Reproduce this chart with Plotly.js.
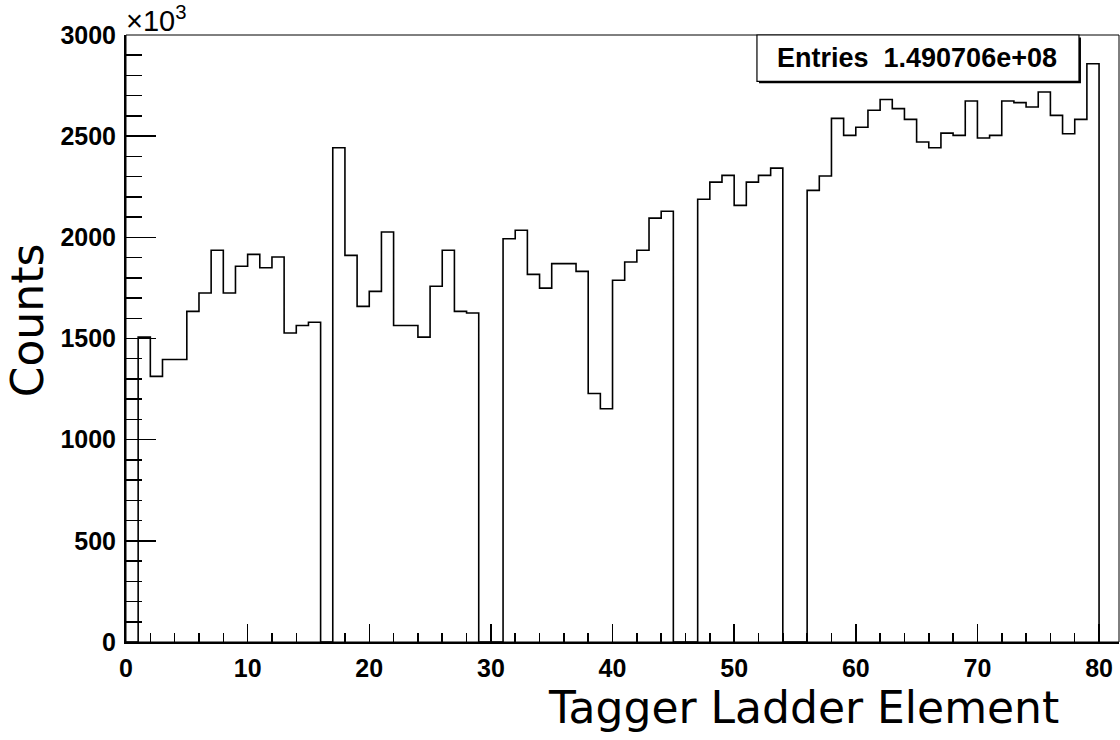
<!DOCTYPE html>
<html>
<head>
<meta charset="utf-8">
<script src="https://cdn.plot.ly/plotly-3.0.1.min.js"></script>
<style>
  html, body { margin: 0; padding: 0; background: #ffffff; }
  #chart { width: 1120px; height: 740px; }
</style>
</head>
<body>
<div id="chart"></div>
<script>
// Bin lower edges (Tagger Ladder Element), 80 bins of width 1
const binEdges = [0,1,2,3,4,5,6,7,8,9,10,11,12,13,14,15,16,17,18,19,
  20,21,22,23,24,25,26,27,28,29,30,31,32,33,34,35,36,37,38,39,
  40,41,42,43,44,45,46,47,48,49,50,51,52,53,54,55,56,57,58,59,
  60,61,62,63,64,65,66,67,68,69,70,71,72,73,74,75,76,77,78,79,80];

// Counts per bin, in units of 10^3
const counts = [0,1507,1313,1396,1396,1634,1725,1936,1725,1857,
  1916,1850,1903,1527,1564,1580,0,2443,1911,1659,
  1733,2026,1564,1564,1507,1758,1936,1634,1626,0,
  0,1993,2035,1817,1749,1870,1870,1832,1228,1153,
  1788,1878,1936,2095,2129,0,0,2188,2273,2306,
  2158,2273,2306,2342,0,0,2232,2303,2588,2504,
  2544,2628,2681,2636,2583,2471,2443,2515,2504,2674,
  2491,2504,2674,2666,2644,2718,2603,2512,2583,2858];

const xTitle = "Tagger Ladder Element";
const yTitle = "Counts";
const yExponent = "\u00d710<sup>3</sup>";
const statsLabel = "Entries";
const statsEntries = "1.490706e+08";

const trace = {
  x: binEdges,
  y: counts.concat([0]),
  type: "scatter",
  mode: "lines",
  line: { shape: "hv", color: "#000000", width: 1.6 },
  hoverinfo: "skip",
  showlegend: false
};

const tickFont = { family: "Liberation Sans, Arial, sans-serif", size: 25, color: "#000000", weight: "bold" };
const titleFont = { family: "DejaVu Sans, sans-serif", size: 44, color: "#000000" };

const layout = {
  width: 1120,
  height: 740,
  paper_bgcolor: "#ffffff",
  plot_bgcolor: "#ffffff",
  margin: { l: 126, r: 1, t: 35, b: 98, pad: 0 },
  showlegend: false,
  xaxis: {
    range: [0, 81.64],
    showgrid: false,
    zeroline: false,
    showline: true,
    linecolor: "#000000",
    linewidth: 2,
    ticks: "inside",
    ticklen: 18,
    tickwidth: 1.5,
    tickcolor: "#000000",
    dtick: 10,
    tick0: 0,
    tickfont: tickFont,
    ticklabelstandoff: 3,
    minor: { ticks: "inside", ticklen: 9, tickwidth: 1.5, tickcolor: "#000000", dtick: 2, showgrid: false },
    fixedrange: true
  },
  yaxis: {
    range: [0, 3000],
    showgrid: false,
    zeroline: false,
    showline: true,
    linecolor: "#000000",
    linewidth: 2,
    ticks: "inside",
    ticklen: 30,
    tickwidth: 1.5,
    tickcolor: "#000000",
    dtick: 500,
    tick0: 0,
    tickfont: tickFont,
    ticklabelstandoff: 3,
    minor: { ticks: "inside", ticklen: 16, tickwidth: 1.5, tickcolor: "#000000", dtick: 100, showgrid: false },
    fixedrange: true
  },
  shapes: [
    { type: "rect", xref: "paper", yref: "paper", x0: 0, x1: 1, y0: 0, y1: 1,
      line: { color: "#000000", width: 1 }, layer: "below" },
    { type: "rect", xref: "paper", yref: "paper", x0: 0.6375, x1: 0.9617, y0: 0.9205, y1: 0.996,
      fillcolor: "#000000", line: { width: 0 } },
    { type: "rect", xref: "paper", yref: "paper", x0: 0.6354, x1: 0.9597, y0: 0.9237, y1: 1.0,
      fillcolor: "#ffffff", line: { color: "#000000", width: 1.2 } }
  ],
  annotations: [
    { text: statsLabel + "\u00a0\u00a0" + statsEntries, xref: "paper", yref: "paper",
      x: 0.7965, y: 0.962, xanchor: "center", yanchor: "middle", showarrow: false,
      font: { family: "Liberation Sans, Arial, sans-serif", size: 27, color: "#000000", weight: "bold" } },
    { text: yExponent, xref: "paper", yref: "paper", x: 0, y: 1.0, xanchor: "left", yanchor: "bottom",
      yshift: -4, xshift: -2, showarrow: false,
      font: { family: "Liberation Sans, Arial, sans-serif", size: 29, color: "#000000" } },
    { text: xTitle, xref: "paper", yref: "paper", x: 1, y: 0, xanchor: "right", yanchor: "top",
      xshift: -58, yshift: -38, showarrow: false, font: titleFont },
    { text: yTitle, xref: "paper", yref: "paper", x: 0, y: 0.53, xanchor: "center", yanchor: "middle",
      xshift: -99, textangle: -90, showarrow: false, font: titleFont }
  ]
};

Plotly.newPlot("chart", [trace], layout, { displayModeBar: false, staticPlot: true });
</script>
</body>
</html>
